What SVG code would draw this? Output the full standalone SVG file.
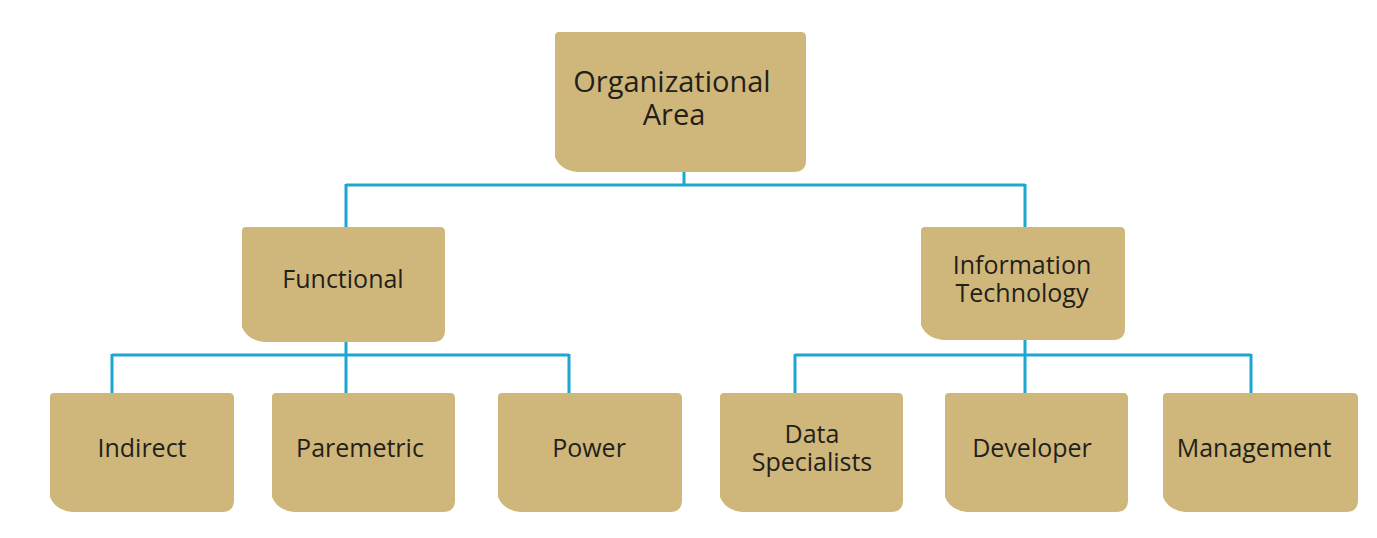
<svg xmlns="http://www.w3.org/2000/svg" width="1377" height="538" viewBox="0 0 1377 538">
<style>
.box{fill:#CFB77B}
.t{font-family:"Open Sans","Noto Sans",sans-serif;font-size:25px;fill:#231F1A;text-anchor:middle}
.big{font-size:29px}
.c{fill:none;stroke:#1DA6CF;stroke-width:3}
</style>
<rect width="1377" height="538" fill="#FFFFFF"/>
<g id="connectors">
<path class="c" d="M684,172V185M346,185H1025M346,184V228M1025,184V228"/>
<path class="c" d="M346,342V355M112,355H569M112,354V394M346,354V394M569,354V394"/>
<path class="c" d="M1025,340V355M795,355H1251M795,354V394M1025,354V394M1251,354V394"/>
</g>
<g id="root">
<path class="box" d="M559,32H801Q806,32 806,37V160Q806,172 794,172H577Q560,170 555,157V36Q555,32 559,32Z"/>
<text class="t big" x="672" y="92">Organizational</text>
<text class="t big" x="674" y="125">Area</text>
</g>
<g id="functional">
<path class="box" d="M246,227H440Q445,227 445,232V330Q445,342 433,342H264Q247,340 242,327V231Q242,227 246,227Z"/>
<text class="t" x="343" y="288">Functional</text>
</g>
<g id="it">
<path class="box" d="M925,227H1120Q1125,227 1125,232V328Q1125,340 1113,340H943Q926,338 921,325V231Q921,227 925,227Z"/>
<text class="t" x="1022" y="274">Information</text>
<text class="t" x="1022" y="302">Technology</text>
</g>
<g id="indirect">
<path class="box" d="M54,393H229Q234,393 234,398V500Q234,512 222,512H72Q55,510 50,497V397Q50,393 54,393Z"/>
<text class="t" x="142" y="457">Indirect</text>
</g>
<g id="paremetric">
<path class="box" d="M276,393H450Q455,393 455,398V500Q455,512 443,512H294Q277,510 272,497V397Q272,393 276,393Z"/>
<text class="t" x="360" y="457">Paremetric</text>
</g>
<g id="power">
<path class="box" d="M502,393H677Q682,393 682,398V500Q682,512 670,512H520Q503,510 498,497V397Q498,393 502,393Z"/>
<text class="t" x="589" y="457">Power</text>
</g>
<g id="data">
<path class="box" d="M724,393H898Q903,393 903,398V500Q903,512 891,512H742Q725,510 720,497V397Q720,393 724,393Z"/>
<text class="t" x="812" y="443">Data</text>
<text class="t" x="812" y="471">Specialists</text>
</g>
<g id="developer">
<path class="box" d="M949,393H1123Q1128,393 1128,398V500Q1128,512 1116,512H967Q950,510 945,497V397Q945,393 949,393Z"/>
<text class="t" x="1032" y="457">Developer</text>
</g>
<g id="management">
<path class="box" d="M1167,393H1353Q1358,393 1358,398V500Q1358,512 1346,512H1185Q1168,510 1163,497V397Q1163,393 1167,393Z"/>
<text class="t" x="1254" y="457">Management</text>
</g>
</svg>
